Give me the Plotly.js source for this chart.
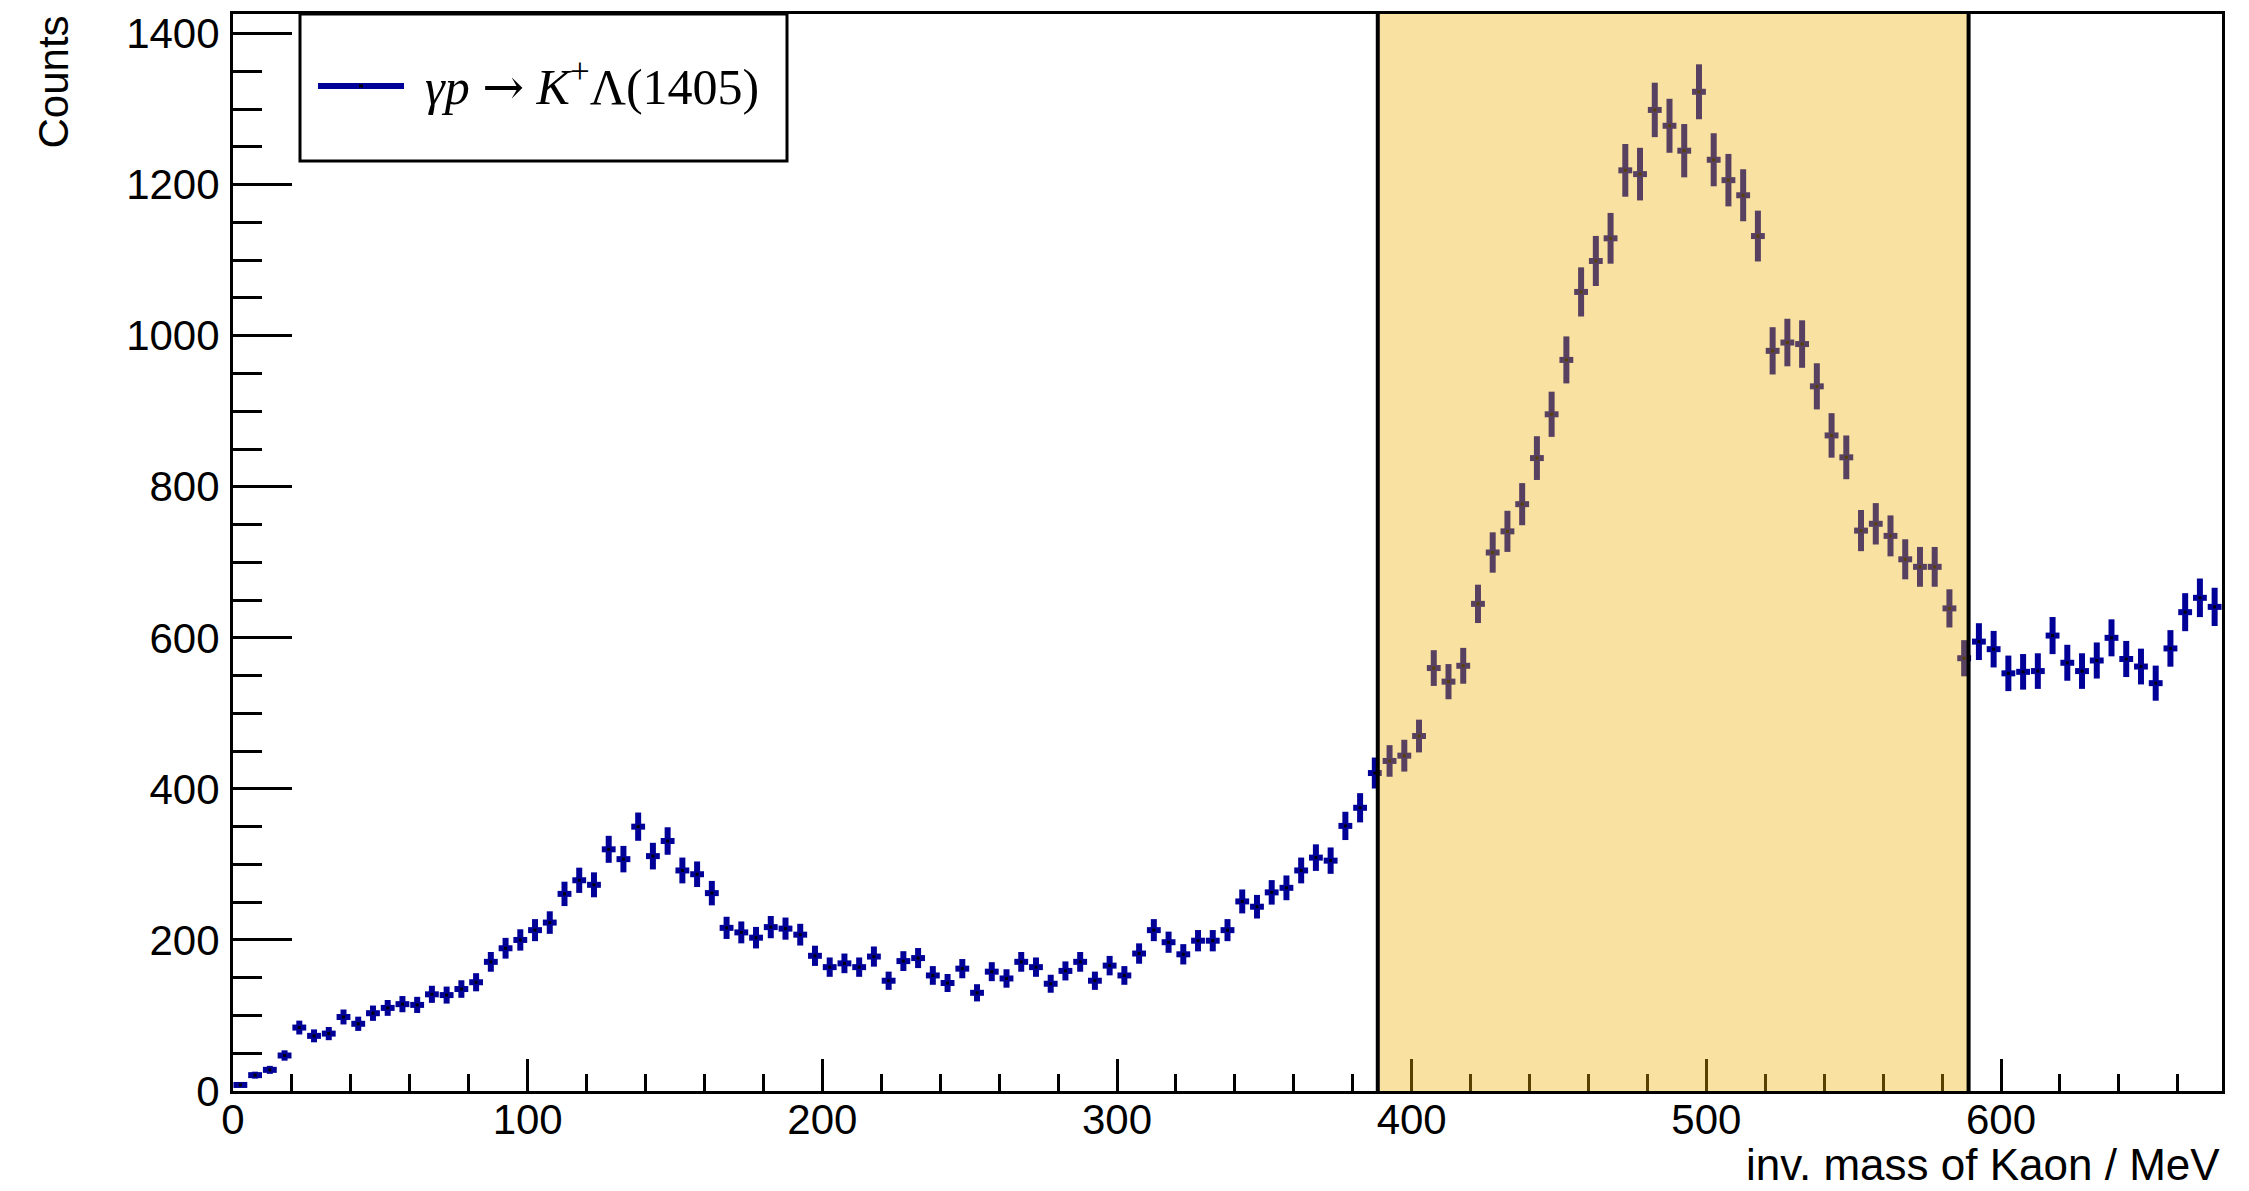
<!DOCTYPE html>
<html>
<head>
<meta charset="utf-8">
<script src="https://cdn.plot.ly/plotly-3.0.1.min.js"></script>
<style>
  html, body { margin: 0; padding: 0; background: #ffffff; }
  #chart { width: 2249px; height: 1191px; }
</style>
</head>
<body>
<div id="chart"></div>
<script>
// Histogram definition: inv. mass of Kaon, 5 MeV bins from 0 to 675 MeV
const histMin = 0;
const binWidth = 5;
const counts = [
  8, 21, 28, 47, 84, 73, 76, 98, 89, 103,
  110, 115, 114, 128, 127, 135, 144, 171, 189, 200,
  213, 223, 261, 279, 273, 320, 307, 350, 311, 331,
  292, 287, 262, 216, 210, 203, 217, 215, 207, 179,
  164, 169, 164, 178, 146, 172, 176, 153, 143, 162,
  130, 158, 149, 171, 164, 142, 159, 171, 146, 166,
  153, 182, 213, 197, 181, 199, 199, 213, 251, 244,
  263, 269, 292, 309, 305, 351, 375, 421, 437, 444,
  470, 560, 542, 563, 645, 713, 741, 777, 838, 896,
  968, 1058, 1099, 1129, 1219, 1214, 1299, 1278, 1245, 1323,
  1233, 1206, 1186, 1132, 980, 991, 989, 933, 868, 839,
  742, 751, 735, 704, 694, 694, 639, 573, 595, 585,
  553, 555, 556, 603, 567, 556, 570, 600, 572, 562,
  540, 586, 634, 653, 641
];
const binCenters = counts.map((_, i) => histMin + binWidth * (i + 0.5));

// Selected mass window (shaded band)
const windowRange = [388.5, 589];

// Axis ticks
const xTickVals = [0, 100, 200, 300, 400, 500, 600];
const yTickVals = [0, 200, 400, 600, 800, 1000, 1200, 1400];

const seriesName = 'γp → K⁺Λ(1405)';
const navy = '#000099';
const sansFont = 'Liberation Sans, Arial, Helvetica, sans-serif';
const serifFont = 'Liberation Serif, Times New Roman, serif';

const trace = {
  type: 'scatter',
  mode: 'markers',
  name: seriesName,
  x: binCenters,
  y: counts,
  marker: { symbol: 'square', size: 3, color: '#000000', line: { width: 0 } },
  error_y: { type: 'sqrt', visible: true, color: navy, thickness: 6, width: 0 },
  error_x: { type: 'constant', value: 2.35, visible: true, color: navy, thickness: 6, width: 0 },
  showlegend: false,
  hoverinfo: 'x+y'
};

// pixel helpers for paper placement of decorations (plot area: 233..2222 x 14..1091)
const L = 233, R = 2222, T = 14, B = 1091;
const px = v => (v - L) / (R - L);
const py = v => (B - v) / (B - T);

const layout = {
  width: 2249,
  height: 1191,
  margin: { l: L, r: 2249 - R, t: T, b: 1191 - B, pad: 0 },
  paper_bgcolor: '#ffffff',
  plot_bgcolor: '#ffffff',
  showlegend: false,
  font: { family: sansFont, size: 42, color: '#000000' },
  xaxis: {
    range: [0, 675],
    tickvals: xTickVals,
    ticktext: xTickVals.map(String),
    ticks: 'inside',
    ticklen: 32,
    tickwidth: 3,
    tickcolor: '#000000',
    minor: { dtick: 20, tick0: 0, ticks: 'inside', ticklen: 17, tickwidth: 3, tickcolor: '#000000' },
    showline: true,
    linewidth: 3,
    linecolor: '#000000',
    mirror: true,
    showgrid: false,
    zeroline: false,
    tickfont: { family: sansFont, size: 42, color: '#000000' },
    ticklabelstandoff: -10
  },
  yaxis: {
    range: [0, 1426],
    tickvals: yTickVals,
    ticktext: yTickVals.map(String),
    ticks: 'inside',
    ticklen: 59,
    tickwidth: 3,
    tickcolor: '#000000',
    minor: { dtick: 50, tick0: 0, ticks: 'inside', ticklen: 29, tickwidth: 3, tickcolor: '#000000' },
    showline: true,
    linewidth: 3,
    linecolor: '#000000',
    mirror: true,
    showgrid: false,
    zeroline: false,
    tickfont: { family: sansFont, size: 42, color: '#000000' },
    ticklabelstandoff: 2
  },
  shapes: [
    // shaded selection window
    { type: 'rect', layer: 'above', xref: 'x', yref: 'paper', x0: windowRange[0], x1: windowRange[1], y0: 0, y1: 1,
      fillcolor: 'rgba(238,173,0,0.37)', line: { width: 0 } },
    { type: 'line', layer: 'above', xref: 'x', yref: 'paper', x0: windowRange[0], x1: windowRange[0], y0: 0, y1: 1,
      line: { color: '#000000', width: 4 } },
    { type: 'line', layer: 'above', xref: 'x', yref: 'paper', x0: windowRange[1], x1: windowRange[1], y0: 0, y1: 1,
      line: { color: '#000000', width: 4 } },
    // legend box
    { type: 'rect', layer: 'above', xref: 'paper', yref: 'paper', x0: px(300), x1: px(787), y0: py(161), y1: py(14),
      fillcolor: '#ffffff', line: { color: '#000000', width: 3 } },
    // legend sample line
    { type: 'line', layer: 'above', xref: 'paper', yref: 'paper', x0: px(318), x1: px(404), y0: py(86), y1: py(86),
      line: { color: navy, width: 6 } },
    { type: 'rect', layer: 'above', xref: 'paper', yref: 'paper', x0: px(359), x1: px(363), y0: py(87.5), y1: py(84.5),
      fillcolor: '#000000', line: { width: 0 } }
  ],
  annotations: [
    { xref: 'paper', yref: 'paper', x: px(423), y: py(84), xanchor: 'left', yanchor: 'middle', showarrow: false,
      text: '<i>γp</i> <span style="font-family:DejaVu Serif">→</span> <i>K</i><sup>+</sup>Λ(1405)',
      font: { family: serifFont, size: 50, color: '#000000' } },
    { xref: 'paper', yref: 'paper', x: px(53), y: 1, xanchor: 'center', yanchor: 'top', showarrow: false,
      textangle: -90, text: 'Counts', font: { family: sansFont, size: 42, color: '#000000' } },
    { xref: 'paper', yref: 'paper', x: 1, y: py(1164), xanchor: 'right', yanchor: 'middle', showarrow: false,
      text: 'inv. mass of Kaon / MeV', font: { family: sansFont, size: 44, color: '#000000' } }
  ]
};

Plotly.newPlot('chart', [trace], layout, { staticPlot: true, displayModeBar: false });
</script>
</body>
</html>
